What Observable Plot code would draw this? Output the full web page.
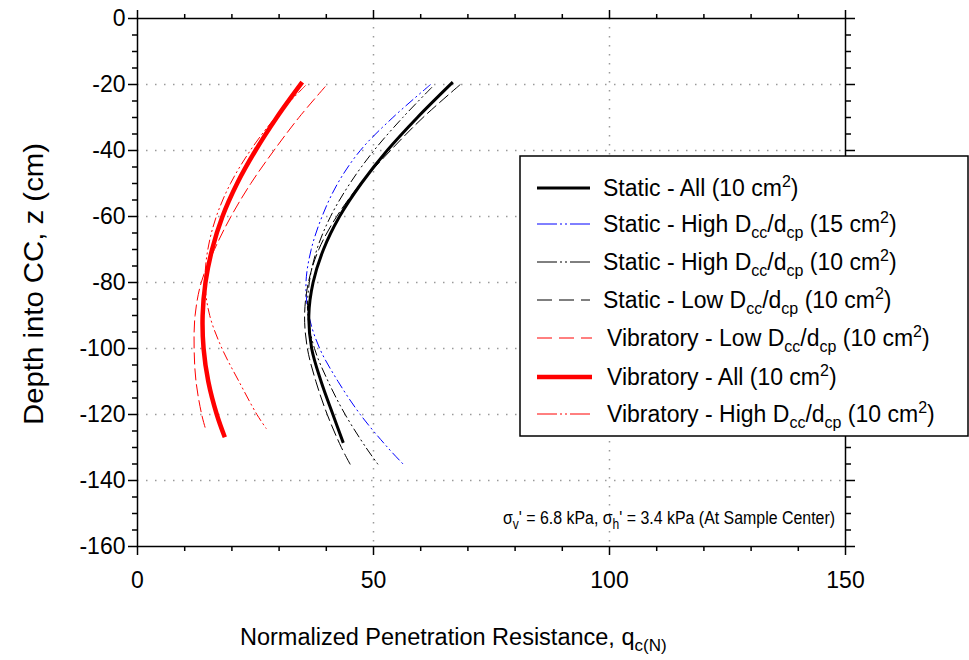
<!DOCTYPE html>
<html><head><meta charset="utf-8">
<script src="https://cdn.jsdelivr.net/npm/d3@7"></script>
<script src="https://cdn.jsdelivr.net/npm/@observablehq/plot@0.6"></script>
<style>body{margin:0;background:#fff;} svg{display:block}</style>
</head><body><div id="chart"></div>
<script>
// ---- data ----
const depthStaticAll = [-19.3, -30, -40, -50, -60, -70, -80, -90, -100, -110, -120, -128.6];
const qStaticAll     = [66.8, 59.3, 52.9, 47.4, 42.8, 39.4, 37.2, 36.3, 36.9, 38.9, 41.4, 43.6];

const depthStaticHigh15 = [-20, -30, -40, -50, -60, -70, -80, -90, -100, -110, -120, -130, -135.2];
const qStaticHigh15     = [62.1, 54.1, 47.2, 42.4, 39.1, 36.8, 35.7, 36.3, 38.6, 42.5, 47.2, 53.0, 56.4];

const depthStaticHigh10 = [-20.8, -30, -40, -50, -60, -70, -80, -90, -100, -110, -120, -130, -135.2];
const qStaticHigh10     = [62.4, 56.2, 50.1, 45.0, 40.9, 38.0, 36.4, 36.1, 37.5, 40.4, 44.0, 48.4, 51.0];

const depthStaticLow10 = [-20, -30, -40, -50, -60, -70, -80, -90, -100, -110, -120, -130, -135.2];
const qStaticLow10     = [68.4, 60.5, 53.6, 47.3, 42.2, 38.4, 36.2, 35.4, 36.0, 37.8, 40.2, 43.2, 45.1];

const depthVibLow10 = [-20.6, -30, -40, -50, -60, -70, -80, -90, -100, -110, -120, -124.3];
const qVibLow10     = [39.8, 34.2, 28.9, 24.0, 19.8, 16.3, 13.5, 12.2, 12.0, 12.4, 13.6, 14.4];

const depthVibAll = [-19.3, -30, -40, -50, -60, -70, -80, -90, -100, -110, -120, -126.9];
const qVibAll     = [34.9, 29.5, 25.0, 21.1, 18.0, 15.8, 14.4, 13.8, 14.0, 15.0, 16.8, 18.5];

const depthVibHigh10 = [-20.3, -30, -40, -50, -60, -70, -80, -90, -100, -110, -120, -124.3];
const qVibHigh10     = [35.6, 29.2, 23.9, 19.7, 16.7, 14.9, 14.3, 15.3, 17.9, 21.5, 25.3, 27.3];

const xMajorTicks = [0, 50, 100, 150];
const xMinorTicks = [10, 20, 30, 40, 60, 70, 80, 90, 110, 120, 130, 140];
const yMajorTicks = [0, -20, -40, -60, -80, -100, -120, -140, -160];
const yMinorTicks = [-5, -10, -15, -25, -30, -35, -45, -50, -55, -65, -70, -75, -85, -90, -95,
                     -105, -110, -115, -125, -130, -135, -145, -150, -155];
const xGrid = [50, 100];
const yGrid = [-20, -40, -60, -80, -100, -120, -140];

// ---- styles ----
const FONT = "'Liberation Sans', Arial, Helvetica, sans-serif";
const DDOT = "10,3,2,3,2,3";
const LDASH = "12,4";

const series = [
  {key: "Static - All (10 cm2)", z: depthStaticAll, q: qStaticAll, stroke: "black", w: 3, dash: null,
   label: [["Static - All (10 cm"], ["2", "sup"], [")"]], legendDash: null, indent: 0},
  {key: "Static - High 15", z: depthStaticHigh15, q: qStaticHigh15, stroke: "blue", w: 1, dash: DDOT,
   label: [["Static - High D"], ["cc", "sub"], ["/d"], ["cp", "sub"], [" (15 cm"], ["2", "sup"], [")"]], legendDash: "20,3,2,3,2,3", indent: 0},
  {key: "Static - High 10", z: depthStaticHigh10, q: qStaticHigh10, stroke: "black", w: 1, dash: DDOT,
   label: [["Static - High D"], ["cc", "sub"], ["/d"], ["cp", "sub"], [" (10 cm"], ["2", "sup"], [")"]], legendDash: "20,3,2,3,2,3", indent: 0},
  {key: "Static - Low 10", z: depthStaticLow10, q: qStaticLow10, stroke: "black", w: 1, dash: LDASH,
   label: [["Static - Low D"], ["cc", "sub"], ["/d"], ["cp", "sub"], [" (10 cm"], ["2", "sup"], [")"]], legendDash: "15,7", indent: 0},
  {key: "Vibratory - Low 10", z: depthVibLow10, q: qVibLow10, stroke: "red", w: 1, dash: LDASH,
   label: [["Vibratory - Low D"], ["cc", "sub"], ["/d"], ["cp", "sub"], [" (10 cm"], ["2", "sup"], [")"]], legendDash: "15,7", indent: 4},
  {key: "Vibratory - All", z: depthVibAll, q: qVibAll, stroke: "red", w: 4.5, dash: null,
   label: [["Vibratory - All (10 cm"], ["2", "sup"], [")"]], legendDash: null, indent: 4},
  {key: "Vibratory - High 10", z: depthVibHigh10, q: qVibHigh10, stroke: "red", w: 1, dash: DDOT,
   label: [["Vibratory - High D"], ["cc", "sub"], ["/d"], ["cp", "sub"], [" (10 cm"], ["2", "sup"], [")"]], legendDash: "20,3,2,3,2,3", indent: 4}
];

const toRows = s => s.z.map((z, i) => ({z, q: s.q[i], key: s.key}));

// draw thin lines first, thick on top
const drawOrder = [1, 2, 3, 4, 6, 5, 0];
const lineMarks = drawOrder.map(i => {
  const s = series[i];
  return Plot.line(toRows(s), {x: "q", y: "z", stroke: s.stroke, strokeWidth: s.w,
    strokeDasharray: s.dash, curve: "catmull-rom", strokeLinecap: "butt"});
});

const tickStyle = {stroke: "black", strokeWidth: 1.5};
const plot = Plot.plot({
  width: 969, height: 660,
  marginLeft: 137, marginRight: 124, marginTop: 18, marginBottom: 114,
  style: {fontFamily: FONT, fontSize: "23px", background: "white", color: "black"},
  x: {domain: [0, 150]},
  y: {domain: [-160, 0]},
  marks: [
    Plot.gridX(xGrid, {stroke: "#9a9a9a", strokeOpacity: 1, strokeWidth: 1.5, strokeDasharray: "1.5,7.5"}),
    Plot.gridY(yGrid, {stroke: "#9a9a9a", strokeOpacity: 1, strokeWidth: 1.5, strokeDasharray: "1.5,7.5"}),
    ...lineMarks,
    Plot.axisX(xMajorTicks, {anchor: "bottom", tickSize: 9, tickPadding: 16, label: null, fontSize: 23, tickFormat: d => String(d), ...tickStyle}),
    Plot.axisX(xMinorTicks, {anchor: "bottom", tickSize: 5, label: null, tickFormat: () => "", ...tickStyle}),
    Plot.axisX(xMajorTicks, {anchor: "top", tickSize: 9, label: null, tickFormat: () => "", ...tickStyle}),
    Plot.axisX(xMinorTicks, {anchor: "top", tickSize: 5, label: null, tickFormat: () => "", ...tickStyle}),
    Plot.axisY(yMajorTicks, {anchor: "left", tickSize: 9, tickPadding: 3, label: null, fontSize: 23, tickFormat: d => String(d), ...tickStyle}),
    Plot.axisY(yMinorTicks, {anchor: "left", tickSize: 5, label: null, tickFormat: () => "", ...tickStyle}),
    Plot.axisY(yMajorTicks, {anchor: "right", tickSize: 9, label: null, tickFormat: () => "", ...tickStyle}),
    Plot.axisY(yMinorTicks, {anchor: "right", tickSize: 5, label: null, tickFormat: () => "", ...tickStyle}),
    Plot.frame({stroke: "black", strokeWidth: 1.5})
  ]
});
document.getElementById("chart").appendChild(plot);

// ---- rich text helper (sub / superscripts) ----
function rich(textSel, parts, small, subDy = 6, supDy = -9) {
  let shift = 0;
  parts.forEach(([t, k]) => {
    const target = k === "sub" ? subDy : k === "sup" ? supDy : 0;
    const ts = textSel.append("tspan").attr("dy", target - shift).text(t);
    if (k) ts.attr("font-size", small);
    shift = target;
  });
}

const svg = d3.select(plot);
const xs = plot.scale("x"), ys = plot.scale("y");

// axis titles
svg.append("text").attr("font-family", FONT).attr("font-size", 28).attr("fill", "black")
  .attr("text-anchor", "middle").attr("transform", "translate(43,284) rotate(-90)")
  .attr("textLength", 282).attr("lengthAdjust", "spacingAndGlyphs")
  .text("Depth into CC, z (cm)");
const xt = svg.append("text").attr("font-family", FONT).attr("font-size", 23.5).attr("fill", "black")
  .attr("text-anchor", "start").attr("x", 240).attr("y", 645).style("white-space", "pre");
rich(xt, [["Normalized Penetration Resistance, q"], ["c(N)", "sub"]], 17);

// annotation (slightly condensed, as in the reference)
const an = svg.append("text").attr("font-family", FONT).attr("font-size", 18.5).attr("fill", "black")
  .attr("text-anchor", "end")
  .attr("transform", `translate(835,${ys.apply(-153.3)}) scale(0.86,1)`)
  .style("white-space", "pre");
rich(an, [["σ"], ["v", "sub"], ["' = 6.8 kPa, σ"], ["h", "sub"], ["' = 3.4 kPa (At Sample Center)"]], 14, 5);

// legend
const lg = svg.append("g").attr("font-family", FONT).attr("font-size", 23).attr("text-anchor", "start");
lg.append("rect").attr("x", 520).attr("y", 156).attr("width", 448).attr("height", 280)
  .attr("fill", "white").attr("stroke", "black").attr("stroke-width", 1.5);
const rowY = [188, 224, 262, 300, 338, 377, 414];
series.forEach((s, i) => {
  const y = rowY[i];
  lg.append("line").attr("x1", 537).attr("x2", 590 + (s.indent ? 2 : 0)).attr("y1", y).attr("y2", y)
    .attr("stroke", s.stroke).attr("stroke-width", s.w).attr("stroke-dasharray", s.legendDash);
  const t = lg.append("text").attr("x", 603 + s.indent).attr("y", y + 8).attr("fill", "black")
    .attr("text-anchor", "start").style("white-space", "pre");
  rich(t, s.label, 16);
});
</script>
</body></html>
